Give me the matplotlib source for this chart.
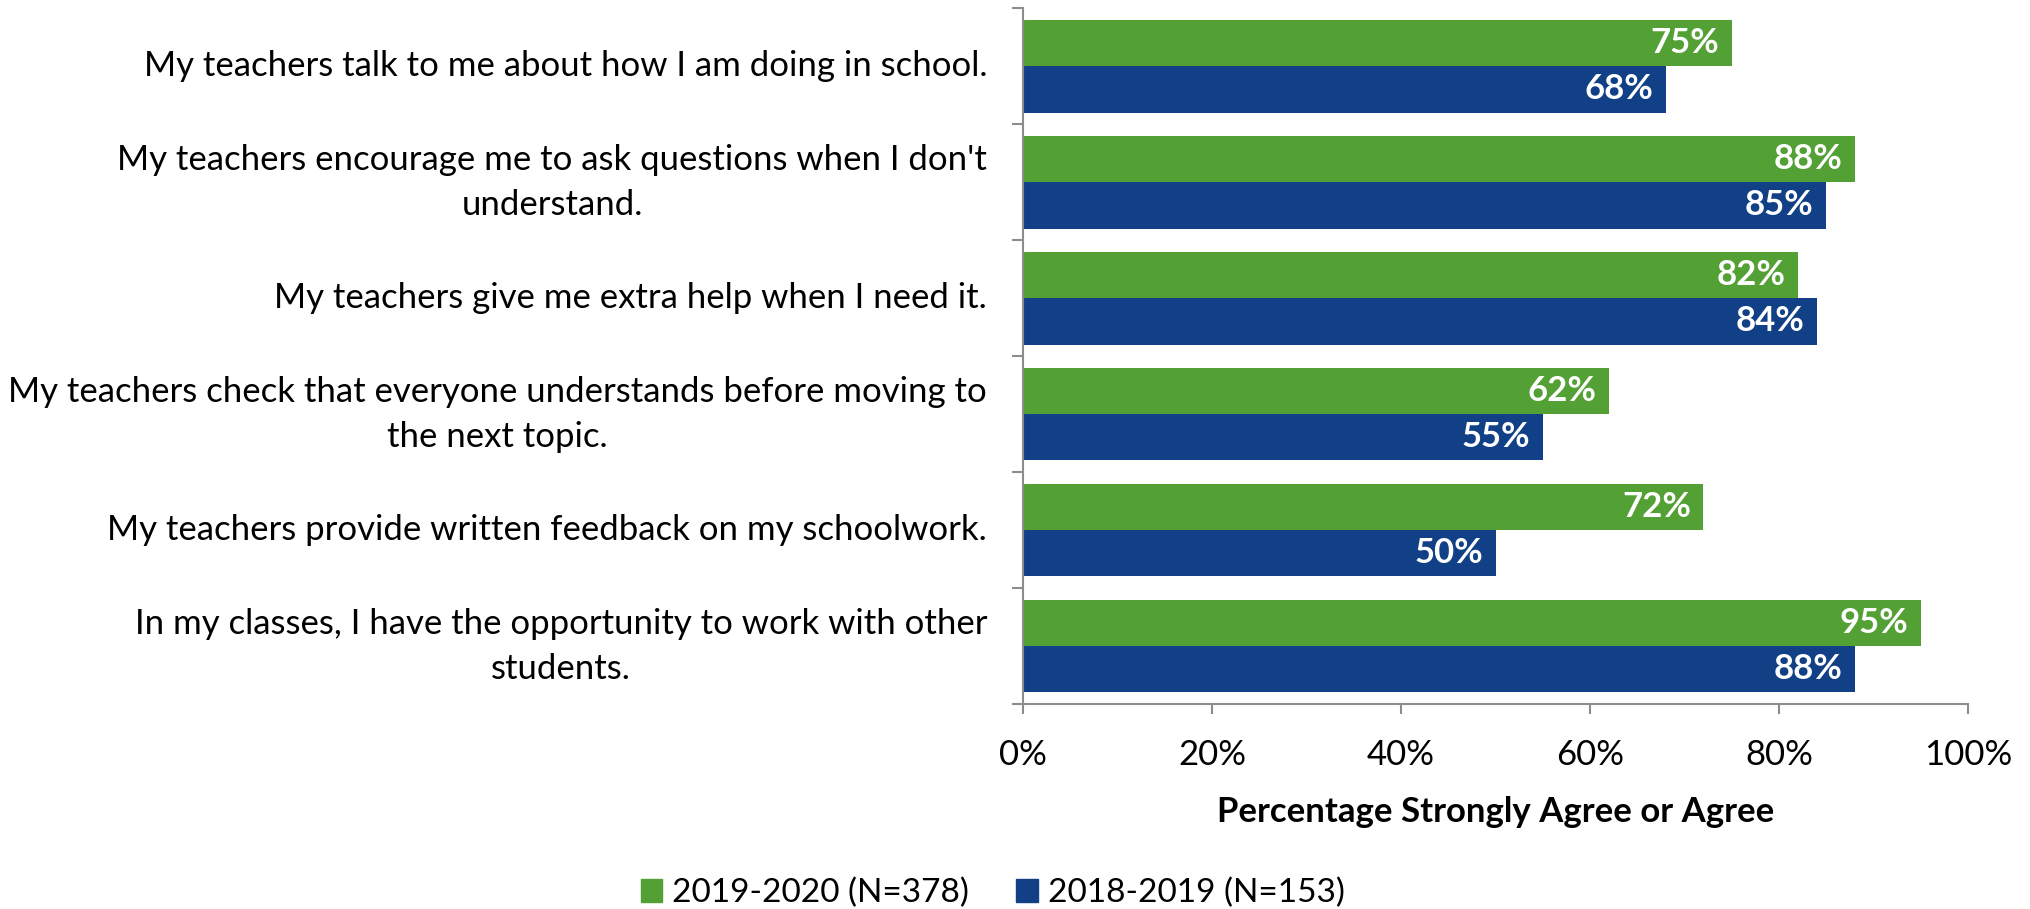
import matplotlib
matplotlib.use("Agg")
import matplotlib.pyplot as plt
from matplotlib.patches import Patch
import numpy as np

# data
questions = [
    "My teachers talk to me about how I am doing in school.",
    "My teachers encourage me to ask questions when I don't\nunderstand.",
    "My teachers give me extra help when I need it.",
    "My teachers check that everyone understands before moving to\nthe next topic.",
    "My teachers provide written feedback on my schoolwork.",
    "In my classes, I have the opportunity to work with other\nstudents.",
]
pct_2019_2020 = [75, 88, 82, 62, 72, 95]
pct_2018_2019 = [68, 85, 84, 55, 50, 88]
series_names = ["2019-2020 (N=378)", "2018-2019 (N=153)"]
xticks = [0, 20, 40, 60, 80, 100]

green = "#53A035"
blue = "#124087"
grey = "#8C8C8C"

plt.rcParams['font.family'] = ['Lato', 'DejaVu Sans']
fs = 25

fig = plt.figure(figsize=(20.30, 9.09), dpi=100)
ax = fig.add_axes([0.504, 0.2255, 0.4655, 0.7655])

n = len(questions)
y = np.arange(n)
h = 0.4
ax.barh(y - h / 2, pct_2019_2020, height=h, color=green, label=series_names[0])
ax.barh(y + h / 2, pct_2018_2019, height=h, color=blue, label=series_names[1])

for yy, v in zip(y - h / 2, pct_2019_2020):
    ax.annotate(f"{v}%", (v, yy), xytext=(-9, 0), textcoords="offset points",
                ha="right", va="center", color="white", fontsize=fs, fontweight="bold")
for yy, v in zip(y + h / 2, pct_2018_2019):
    ax.annotate(f"{v}%", (v, yy), xytext=(-9, 0), textcoords="offset points",
                ha="right", va="center", color="white", fontsize=fs, fontweight="bold")

ax.set_ylim(n - 0.5, -0.5)
ax.set_xlim(0, 100)

ax.set_yticks(y)
ax.set_yticklabels(questions, fontsize=fs, multialignment="center", linespacing=1.5,
                   va="center")
ax.set_yticks(np.arange(n + 1) - 0.5, minor=True)
ax.tick_params(axis="y", which="major", length=0, pad=26)
ax.tick_params(axis="y", which="minor", length=8, width=1.5, color=grey)

ax.set_xticks(xticks)
ax.set_xticklabels([f"{t}%" for t in xticks], fontsize=fs)
ax.tick_params(axis="x", length=7, width=1.5, color=grey, pad=18)
ax.set_xlabel("Percentage Strongly Agree or Agree", fontsize=fs, fontweight="bold", labelpad=18)

for s in ["top", "right"]:
    ax.spines[s].set_visible(False)
for s in ["left", "bottom"]:
    ax.spines[s].set_color(grey)
    ax.spines[s].set_linewidth(1.5)

handles = [Patch(color=green), Patch(color=blue)]
fig.legend(handles, series_names, loc="center", bbox_to_anchor=(0.489, 0.018),
           ncol=2, frameon=False, fontsize=24, handlelength=0.65, handleheight=0.7,
           handletextpad=0.3, columnspacing=1.4)

fig.savefig("out.png", dpi=100)
